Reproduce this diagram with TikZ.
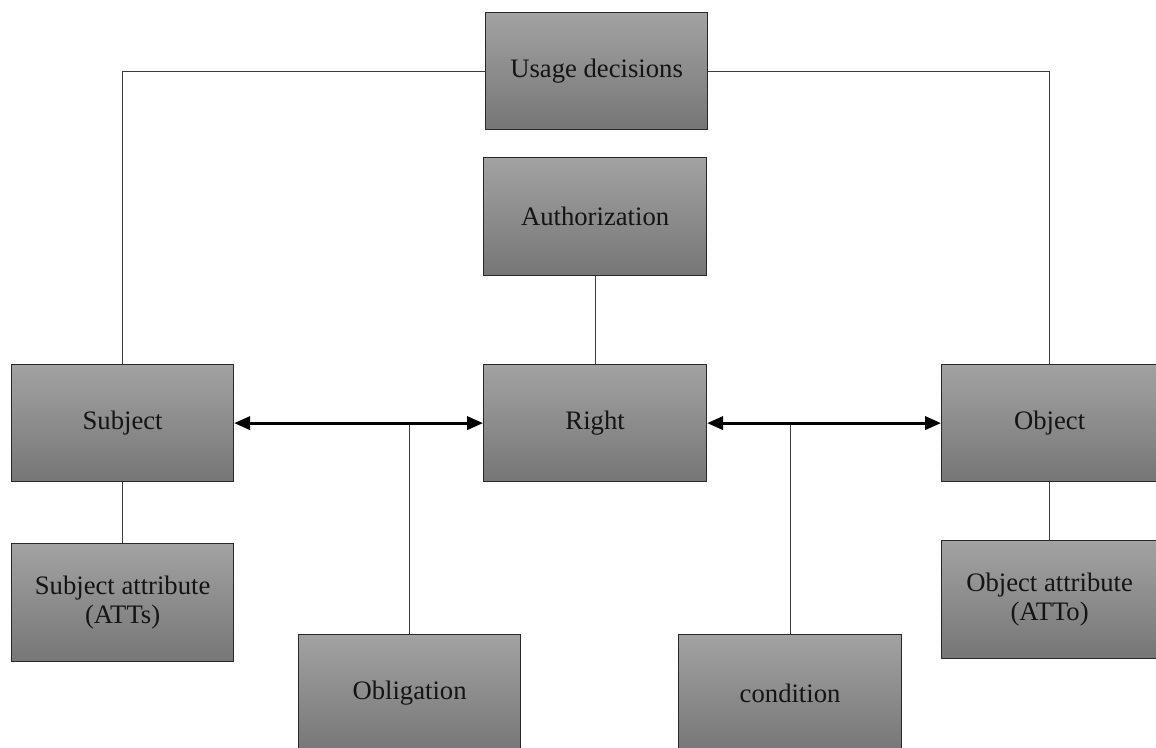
\documentclass[tikz,border=0pt]{standalone}
\usepackage{fontspec}
\setmainfont{Liberation Serif}
\usetikzlibrary{arrows.meta}
\definecolor{boxtop}{RGB}{162,162,162}
\definecolor{boxbot}{RGB}{118,118,118}
\definecolor{boxline}{RGB}{40,40,40}
\definecolor{wire}{RGB}{60,60,60}
\definecolor{ink}{RGB}{20,20,20}
\tikzset{
  box/.style 2 args={draw=boxline, line width=0.9pt, top color=boxtop, bottom color=boxbot,
    anchor=north west, minimum width=#1*0.75pt, minimum height=#2*0.75pt,
    inner sep=0pt, align=center, text=ink, font=\fontsize{20}{22}\selectfont},
  wireline/.style={draw=wire, line width=0.9pt},
  dualarrow/.style={draw=black, line width=2.1pt,
    {Triangle[length=12pt,width=10pt]}-{Triangle[length=12pt,width=10pt]}}
}
\begin{document}
\begin{tikzpicture}[x=0.75pt,y=-0.75pt]
\useasboundingbox (0,0) rectangle (1156,747);
\clip (0,0) rectangle (1156,747);
\fill[white] (0,0) rectangle (1156,747);

% boxes
\node[box={222}{117}] (usage) at (485,12) {\raisebox{-3pt}{Usage decisions}};
\node[box={223}{118}] (auth) at (483,157) {\raisebox{-3pt}{Authorization}};
\node[box={223}{117}] (right) at (483,364) {\raisebox{-3pt}{Right}};
\node[box={222}{117}] (subj) at (11,364) {\raisebox{-3pt}{Subject}};
\node[box={216}{117}] (obj) at (941,364) {\raisebox{-3pt}{Object}};
\node[box={222}{118}] (subjatt) at (11,543) {Subject attribute\\(ATTs)};
\node[box={216}{118}] (objatt) at (941,540) {Object attribute\\(ATTo)};
\node[box={222}{118}] (oblig) at (298,634) {\raisebox{-3pt}{Obligation}};
\node[box={223}{118}] (cond) at (678,634) {\raisebox{-3pt}{condition}};

% tree connectors
\draw[wireline] (usage.west) -| (subj.north);
\draw[wireline] (usage.east) -| (obj.north);
\draw[wireline] (auth.south) -- (right.north);
\draw[wireline] (subj.south) -- (subjatt.north);
\draw[wireline] (obj.south) -- (objatt.north);

% relations with their qualifiers
\coordinate (obtap) at (oblig.north |- subj.east);
\coordinate (cotap) at (cond.north |- right.east);
\draw[wireline] (obtap) -- (oblig.north);
\draw[wireline] (cotap) -- (cond.north);
\draw[dualarrow] (subj.east) -- (right.west);
\draw[dualarrow] (right.east) -- (obj.west);
\end{tikzpicture}
\end{document}
